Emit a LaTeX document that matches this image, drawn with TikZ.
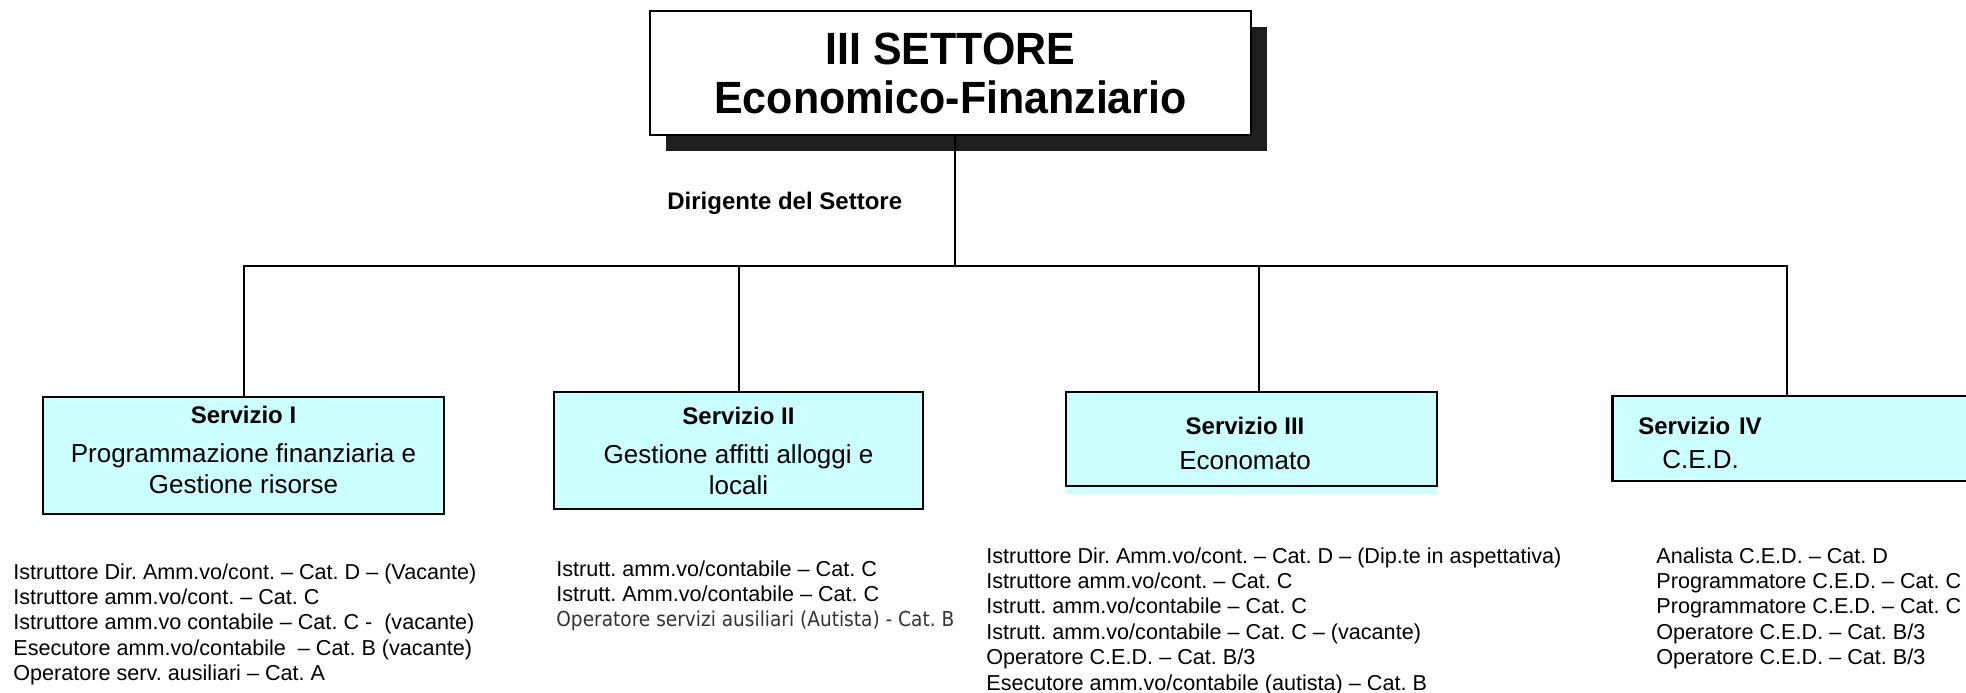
\documentclass[tikz,border=0pt]{standalone}
\usepackage{fontspec}
\setmainfont{Liberation Sans}
\newfontfamily\titlefont[FakeStretch=0.95]{Liberation Sans}
\newfontfamily\tahfont[FakeStretch=0.9]{DejaVu Sans}
\usetikzlibrary{shadows}
\definecolor{boxcyan}{HTML}{CCFFFF}
\definecolor{shadowgray}{HTML}{1E1E1E}
\newcommand{\servtitle}[1]{{\bfseries\fontsize{12}{15.5}\selectfont #1}}
\frenchspacing
\begin{document}
\begin{tikzpicture}[x=0.5pt,y=-0.5pt,
  conn/.style={draw=black, line width=1pt},
  servbox/.style={draw=black, line width=1.3pt, fill=boxcyan, inner sep=0pt, align=center, font=\fontsize{13}{15.5}\selectfont},
  listtext/.style={anchor=north west, inner sep=0pt, align=left, font=\fontsize{10.8}{12.7}\selectfont},
]
\useasboundingbox (0,0) rectangle (1966,692);
\clip (0,0) rectangle (1966,692);
\fill[white] (0,0) rectangle (1966,692);

% top box
\node[draw=black, line width=1pt, fill=white, minimum width=300.5pt, minimum height=62pt, inner sep=0pt, align=center,
  general shadow={fill=shadowgray, shadow xshift=8pt, shadow yshift=-8pt},
  font=\titlefont\bfseries\fontsize{22.6}{24.5}\selectfont] (top) at (950.5,73) {III SETTORE\\Economico-Finanziario};

\node[anchor=base west, inner sep=0pt, font=\bfseries\fontsize{12}{14}\selectfont] (dir) at (667,209) {Dirigente del Settore};

% service boxes
\node[servbox, minimum width=200.5pt, minimum height=58.5pt] (s1) at (243.5,455.5)
  {\servtitle{Servizio I}\\[4pt]Programmazione finanziaria e\\Gestione risorse\rule[-6pt]{0pt}{6pt}};
\node[servbox, minimum width=184.5pt, minimum height=58.5pt] (s2) at (738.5,450.5)
  {\servtitle{Servizio II}\\[4pt]Gestione affitti alloggi e\\locali};
\node[servbox, minimum width=185.5pt, minimum height=47pt,
  general shadow={fill=boxcyan, shadow yshift=-4pt}] (s3) at (1251.5,439)
  {\servtitle{Servizio III}\hspace*{6.5pt}\rule{0pt}{13.5pt}\\[2pt]Economato\hspace*{6.5pt}};
\node[servbox, align=left, text width=218.5pt, inner xsep=13pt, minimum height=42.5pt, anchor=west] (s4) at (1611,438.5)
  {\servtitle{Servizio IV}\rule{0pt}{13.5pt}\\[1.5pt]\hspace*{12pt}C.E.D.};

% connectors
\coordinate (bus) at (955,266);
\coordinate (c3) at (1259,266);
\coordinate (c4) at (1787,266);
\draw[conn] (top.south) ++(4.5,0) -- (bus);
\draw[conn] (s1.north) |- (bus);
\draw[conn] (bus) -- (c4) -- (c4 |- s4.north);
\draw[conn] (s2.north) -- (s2.north |- bus);
\draw[conn] (c3) -- (c3 |- s3.north);

% staff lists
\node[listtext] (l1) at (13,563) {Istruttore Dir. Amm.vo/cont. – Cat. D – (Vacante)\\
  Istruttore amm.vo/cont. – Cat. C\\
  Istruttore amm.vo contabile – Cat. C -\ \ (vacante)\\
  Esecutore amm.vo/contabile\ \ – Cat. B (vacante)\\
  Operatore serv. ausiliari – Cat. A};
\node[listtext] (l2) at (556,560) {Istrutt. amm.vo/contabile – Cat. C\\
  Istrutt. Amm.vo/contabile – Cat. C\\
  {\tahfont\fontsize{10.3}{12.7}\selectfont\color{black!80}Operatore servizi ausiliari (Autista) - Cat. B}};
\node[listtext] (l3) at (986,547) {Istruttore Dir. Amm.vo/cont. – Cat. D – (Dip.te in aspettativa)\\
  Istruttore amm.vo/cont. – Cat. C\\
  Istrutt. amm.vo/contabile – Cat. C\\
  Istrutt. amm.vo/contabile – Cat. C – (vacante)\\
  Operatore C.E.D. – Cat. B/3\\
  Esecutore amm.vo/contabile (autista) – Cat. B};
\node[listtext] (l4) at (1656,547) {Analista C.E.D. – Cat. D\\
  Programmatore C.E.D. – Cat. C\\
  Programmatore C.E.D. – Cat. C\\
  Operatore C.E.D. – Cat. B/3\\
  Operatore C.E.D. – Cat. B/3};
\end{tikzpicture}
\end{document}
